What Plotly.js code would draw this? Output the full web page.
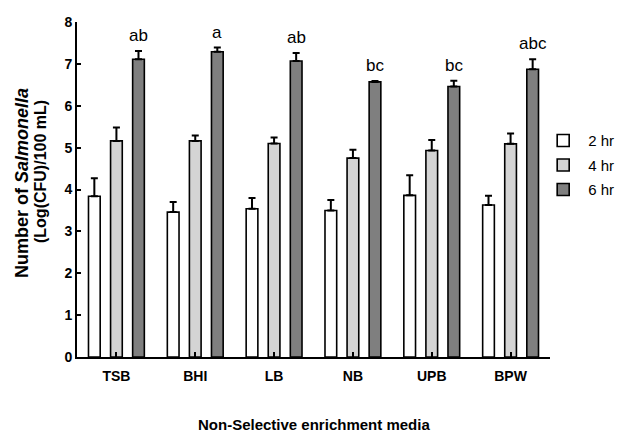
<!DOCTYPE html>
<html>
<head>
<meta charset="utf-8">
<script src="https://cdn.plot.ly/plotly-3.0.1.min.js"></script>
<style>
  html, body { margin: 0; padding: 0; background: #ffffff; }
  #chart { width: 618px; height: 433px; }
</style>
</head>
<body>
<div id="chart"></div>
<script>
// ---- data ----
const categories = ['TSB', 'BHI', 'LB', 'NB', 'UPB', 'BPW'];
const seriesNames = ['2 hr', '4 hr', '6 hr'];
const hr2 = [3.84, 3.46, 3.54, 3.50, 3.86, 3.63];
const hr2Err = [0.43, 0.24, 0.26, 0.25, 0.48, 0.22];
const hr4 = [5.16, 5.16, 5.10, 4.75, 4.93, 5.09];
const hr4Err = [0.32, 0.13, 0.14, 0.20, 0.25, 0.25];
const hr6 = [7.11, 7.29, 7.07, 6.57, 6.46, 6.87];
const hr6Err = [0.20, 0.10, 0.19, 0.02, 0.14, 0.24];
const letters = ['ab', 'a', 'ab', 'bc', 'bc', 'abc'];
const yTickVals = [0, 1, 2, 3, 4, 5, 6, 7, 8];

// ---- styling ----
const FONT = 'Liberation Sans, Arial, Helvetica, sans-serif';
const fills = ['#ffffff', '#d4d4d4', '#7f7f7f'];
const values = [hr2, hr4, hr6];
const errs = [hr2Err, hr4Err, hr6Err];

const margin = { l: 77, r: 68, t: 22, b: 76, pad: 0, autoexpand: false };
const plotW = 618 - margin.l - margin.r;
const bargap = 0.16;
const slotPx = (1 - bargap) / 3 * (plotW / categories.length);

const traces = values.map((v, i) => ({
  type: 'bar',
  name: seriesNames[i],
  x: categories,
  y: v,
  legendgroup: 'g' + i,
  marker: { color: fills[i], line: { color: '#000000', width: 1.6 } },
  error_y: {
    type: 'data',
    array: errs[i],
    arrayminus: errs[i].map(() => 0),
    symmetric: false,
    visible: true,
    color: '#000000',
    thickness: 2,
    width: 3.5
  },
  hoverinfo: 'skip'
}));

const annotations = categories.map((c, k) => ({
  x: c,
  y: hr6[k] + hr6Err[k],
  xref: 'x',
  yref: 'y',
  text: letters[k],
  showarrow: false,
  xanchor: 'center',
  yanchor: 'bottom',
  xshift: slotPx,
  yshift: 4,
  font: { family: FONT, size: 17, color: '#000000' }
}));

annotations.push({
  xref: 'paper', yref: 'paper',
  x: (22 - margin.l) / plotW,
  y: (433 - margin.b - 183) / (433 - margin.t - margin.b),
  text: '<b>Number of <i>Salmonella</i></b>',
  textangle: -90,
  showarrow: false,
  xanchor: 'center', yanchor: 'middle',
  font: { family: FONT, size: 18, color: '#000000' }
});
annotations.push({
  xref: 'paper', yref: 'paper',
  x: (40 - margin.l) / plotW,
  y: (433 - margin.b - 172) / (433 - margin.t - margin.b),
  text: '<b>(Log(CFU)/100 mL)</b>',
  textangle: -90,
  showarrow: false,
  xanchor: 'center', yanchor: 'middle',
  font: { family: FONT, size: 16, color: '#000000' }
});
annotations.push({
  xref: 'paper', yref: 'paper',
  x: 0.5,
  y: (433 - margin.b - 424) / (433 - margin.t - margin.b),
  text: '<b>Non-Selective enrichment media</b>',
  showarrow: false,
  xanchor: 'center', yanchor: 'middle',
  font: { family: FONT, size: 15, color: '#000000' }
});

const layout = {
  width: 618,
  height: 433,
  margin: margin,
  paper_bgcolor: '#ffffff',
  plot_bgcolor: '#ffffff',
  barmode: 'group',
  bargap: bargap,
  bargroupgap: 0.47,
  showlegend: true,
  legend: {
    x: 0.975, xanchor: 'left',
    y: 0.695, yanchor: 'top',
    traceorder: 'grouped',
    tracegroupgap: 2,
    itemwidth: 40,
    font: { family: FONT, size: 15, color: '#000000' },
    bgcolor: 'rgba(0,0,0,0)'
  },
  xaxis: {
    type: 'category',
    range: [-0.5, categories.length - 0.5],
    showline: true, linecolor: '#000000', linewidth: 2,
    ticks: 'inside', ticklen: 5, tickwidth: 2, tickcolor: '#000000',
    tickfont: { family: FONT, size: 14, color: '#000000', weight: 'bold' },
    ticklabelstandoff: 5,
    showgrid: false, zeroline: false,
    fixedrange: true
  },
  yaxis: {
    range: [0, 8],
    tickvals: yTickVals,
    ticktext: yTickVals.map(String),
    showline: true, linecolor: '#000000', linewidth: 2,
    ticks: 'inside', ticklen: 4, tickwidth: 2, tickcolor: '#000000',
    tickfont: { family: FONT, size: 14, color: '#000000', weight: 'bold' },
    ticklabelstandoff: 0,
    showgrid: false, zeroline: false,
    fixedrange: true
  },
  annotations: annotations
};

Plotly.newPlot('chart', traces, layout, { displayModeBar: false, staticPlot: true });
</script>
</body>
</html>
